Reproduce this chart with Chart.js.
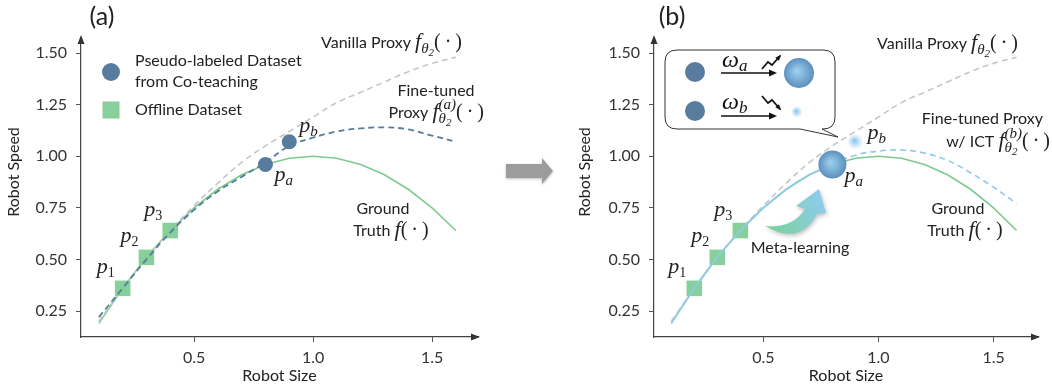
<!DOCTYPE html>
<html>
<head>
<meta charset="utf-8">
<script src="https://cdn.jsdelivr.net/npm/chart.js@4.4.1/dist/chart.umd.min.js"></script>
<style>
  html, body { margin: 0; padding: 0; background: #fff; }
  #wrap { position: relative; width: 1052px; height: 386px; overflow: hidden; }
  .panel { position: absolute; top: 0; height: 386px; }
  #pa { left: 0; width: 560px; }
  #pb { left: 560px; width: 492px; }
</style>
</head>
<body>
<div id="wrap">
  <div class="panel" id="pa"><canvas id="chartA" width="560" height="386"></canvas></div>
  <div class="panel" id="pb"><canvas id="chartB" width="492" height="386"></canvas></div>
</div>
<script>
// robot size (x) and the curves
const sizes        = [0.1, 0.2, 0.3, 0.4, 0.5, 0.6, 0.7, 0.8, 0.9, 1.0, 1.1, 1.2, 1.3, 1.4, 1.5, 1.6];
const groundTruth  = [0.19, 0.36, 0.51, 0.64, 0.75, 0.84, 0.91, 0.96, 0.99, 1.00, 0.99, 0.96, 0.91, 0.84, 0.75, 0.64];
const vanillaProxy = [0.20, 0.36, 0.51, 0.64, 0.76, 0.87, 0.97, 1.05, 1.12, 1.19, 1.26, 1.31, 1.36, 1.41, 1.45, 1.48];
const finetunedA   = [0.22, 0.36, 0.50, 0.63, 0.74, 0.83, 0.90, 0.97, 1.05, 1.09, 1.12, 1.135, 1.14, 1.13, 1.10, 1.07];
const finetunedICT = [0.19, 0.36, 0.51, 0.64, 0.75, 0.84, 0.91, 0.96, 1.005, 1.025, 1.03, 1.015, 0.98, 0.92, 0.85, 0.77];

// offline dataset p1..p3 and pseudo-labeled pa, pb
const offlineX = [0.2, 0.3, 0.4];
const offlineY = [0.36, 0.51, 0.64];
const offlineNames = ['1', '2', '3'];
const pseudoX = [0.8, 0.9];
const pseudoY = [0.96, 1.07];

const xTicks = [0.5, 1.0, 1.5];
const yTicks = [0.25, 0.5, 0.75, 1.0, 1.25, 1.5];

const GREEN = '#7dcb8f';
const SQUARE = 'rgba(126,204,146,0.92)';
const GRAY = '#c6c6c6';
const STEEL = '#587c9d';
const SKY = '#8ecbee';

const SANS = '16px Lato';
const MATH = 'italic 22px "Liberation Serif"';
const MSUB = 'italic 15px "Liberation Serif"';
const MSUB2 = 'italic 11px "Liberation Serif"';
const NSUB = '14px "Liberation Serif"';
const UPR = '20px "Liberation Serif"';
const DOT = '(\u2009\u00b7\u2009)';

const pts = (xs, ys) => xs.map((x, i) => ({ x: x, y: ys[i] }));

// lay out a line of mixed text/math; 'hold' keeps the pen so the next run stacks under it
function rich(ctx, x, y, parts, align) {
  let cx = 0, hold = null;
  const runs = [];
  for (const p of parts) {
    const [t, f, dy = 0, flag] = p;
    ctx.font = f;
    const w = ctx.measureText(t).width;
    runs.push({ t, f, dy, x: cx });
    if (flag === 'hold') { hold = cx + w; continue; }
    cx += w;
    if (flag === 'end' && hold !== null) { cx = Math.max(cx, hold); hold = null; }
  }
  let x0 = x;
  if (align === 'right') x0 = x - cx;
  if (align === 'center') x0 = x - cx / 2;
  ctx.textAlign = 'left';
  ctx.textBaseline = 'alphabetic';
  for (const r of runs) {
    ctx.font = r.f;
    ctx.fillText(r.t, x0 + r.x, y + r.dy);
  }
}

const fTheta = [['f', MATH], ['\u03b8', MSUB, 5], ['2', MSUB2, 8], [DOT, UPR]];

function glow(inner, outer, fade) {
  return c => {
    if (c.type !== 'data' || !c.raw) return outer;
    const ch = c.chart;
    const x = ch.scales.x.getPixelForValue(c.raw.x);
    const y = ch.scales.y.getPixelForValue(c.raw.y);
    if (!isFinite(x) || !isFinite(y)) return outer;
    const r = c.dataset.pointRadius || 10;
    const g = ch.ctx.createRadialGradient(x - r * 0.15, y - r * 0.15, 0, x, y, r);
    g.addColorStop(0, inner);
    g.addColorStop(1, fade ? 'rgba(142,203,238,0)' : outer);
    return g;
  };
}

function axes(yWidth) {
  const grid = { drawOnChartArea: false, drawTicks: true, tickLength: 5, color: '#555', lineWidth: 1 };
  const border = { display: true, color: '#444', width: 1.2 };
  return {
    x: {
      type: 'linear', min: 0.025, max: 1.693,
      afterBuildTicks: s => { s.ticks = xTicks.map(v => ({ value: v })); },
      afterFit: s => { s.height = 49; },
      grid, border,
      ticks: { font: { family: 'Lato', size: 16 }, color: '#333', padding: 6, maxRotation: 0, callback: v => v.toFixed(1) }
    },
    y: {
      type: 'linear', min: 0.124, max: 1.573,
      afterBuildTicks: s => { s.ticks = yTicks.map(v => ({ value: v })); },
      afterFit: s => { s.width = yWidth; },
      grid, border,
      ticks: { font: { family: 'Lato', size: 16 }, color: '#333', padding: 9, callback: v => v.toFixed(2) }
    }
  };
}

const axisArrows = {
  id: 'axisArrows',
  afterDraw(chart) {
    const { ctx, chartArea: a } = chart;
    ctx.save();
    ctx.fillStyle = '#333';
    ctx.beginPath();
    ctx.moveTo(a.left, a.top - 3);
    ctx.lineTo(a.left - 3.5, a.top + 6);
    ctx.lineTo(a.left + 3.5, a.top + 6);
    ctx.closePath();
    ctx.fill();
    ctx.beginPath();
    ctx.moveTo(a.right + 2, a.bottom);
    ctx.lineTo(a.right - 7, a.bottom - 3.5);
    ctx.lineTo(a.right - 7, a.bottom + 3.5);
    ctx.closePath();
    ctx.fill();
    ctx.restore();
  }
};

// common annotations: titles, panel letter, point labels
function common(chart, letter, letterX, speedX) {
  const { ctx, chartArea: a, scales } = chart;
  ctx.fillStyle = '#222';
  ctx.font = SANS;
  ctx.textAlign = 'center';
  ctx.textBaseline = 'middle';
  ctx.fillText('Robot Size', (a.left + a.right) / 2, 376);
  ctx.save();
  ctx.translate(speedX, 172);
  ctx.rotate(-Math.PI / 2);
  ctx.fillText('Robot Speed', 0, 0);
  ctx.restore();
  ctx.font = '25px Lato';
  ctx.fillText(letter, letterX, 17);
  offlineX.forEach((x, i) => {
    const px = scales.x.getPixelForValue(x), py = scales.y.getPixelForValue(offlineY[i]);
    rich(ctx, px - 26, py - 15, [['p', MATH], [offlineNames[i], NSUB, 4]]);
  });
}

const decorA = {
  id: 'decorA',
  afterDraw(chart) {
    const { ctx, scales } = chart;
    ctx.save();
    common(chart, '(a)', 102, 14);
    const pa = { x: scales.x.getPixelForValue(pseudoX[0]), y: scales.y.getPixelForValue(pseudoY[0]) };
    const pb = { x: scales.x.getPixelForValue(pseudoX[1]), y: scales.y.getPixelForValue(pseudoY[1]) };
    ctx.fillStyle = '#222';
    rich(ctx, pa.x + 9, pa.y + 17, [['p', MATH], ['a', MSUB, 4]]);
    rich(ctx, pb.x + 10, pb.y - 10, [['p', MATH], ['b', MSUB, 4]]);
    rich(ctx, 462, 48, [['Vanilla Proxy ', SANS]].concat(fTheta), 'right');
    ctx.font = SANS; ctx.textAlign = 'center';
    ctx.fillText('Fine-tuned', 436, 96);
    rich(ctx, 484, 118, [['Proxy ', SANS], ['f', MATH], ['(a)', MSUB, -9, 'hold'], ['\u03b8', MSUB, 5], ['2', MSUB2, 8, 'end'], [DOT, UPR]], 'right');
    ctx.font = SANS; ctx.textAlign = 'center';
    ctx.fillText('Ground', 383, 214);
    rich(ctx, 391, 236, [['Truth ', SANS], ['f', MATH], [DOT, UPR]], 'center');

    // legend
    ctx.fillStyle = STEEL;
    ctx.beginPath(); ctx.arc(111, 72, 9, 0, Math.PI * 2); ctx.fill();
    ctx.fillStyle = SQUARE;
    ctx.fillRect(102.5, 101.5, 17, 17);
    ctx.fillStyle = '#222';
    ctx.font = SANS; ctx.textAlign = 'left'; ctx.textBaseline = 'alphabetic';
    ctx.fillText('Pseudo-labeled Dataset', 135, 66);
    ctx.fillText('from Co-teaching', 135, 87);
    ctx.fillText('Offline Dataset', 135, 115);

    // gray arrow between the panels
    ctx.shadowColor = 'rgba(0,0,0,0.25)';
    ctx.shadowBlur = 3; ctx.shadowOffsetY = 1;
    ctx.fillStyle = '#9c9c9c';
    ctx.beginPath();
    ctx.moveTo(506, 164); ctx.lineTo(542, 164); ctx.lineTo(542, 158); ctx.lineTo(553, 171);
    ctx.lineTo(542, 184); ctx.lineTo(542, 178); ctx.lineTo(506, 178); ctx.closePath();
    ctx.fill();
    ctx.restore();
  }
};

function arrowLine(ctx, x1, y, x2) {
  ctx.beginPath(); ctx.moveTo(x1, y); ctx.lineTo(x2 - 5, y); ctx.stroke();
  ctx.beginPath(); ctx.moveTo(x2, y); ctx.lineTo(x2 - 8, y - 3.5); ctx.lineTo(x2 - 8, y + 3.5); ctx.closePath(); ctx.fill();
}

function zig(ctx, p) {
  ctx.beginPath();
  ctx.moveTo(p[0][0], p[0][1]);
  for (let i = 1; i < p.length; i++) ctx.lineTo(p[i][0], p[i][1]);
  ctx.stroke();
  const a = p[p.length - 2], b = p[p.length - 1];
  const ang = Math.atan2(b[1] - a[1], b[0] - a[0]);
  ctx.beginPath();
  ctx.moveTo(b[0] + 2 * Math.cos(ang), b[1] + 2 * Math.sin(ang));
  ctx.lineTo(b[0] - 5 * Math.cos(ang - 0.5), b[1] - 5 * Math.sin(ang - 0.5));
  ctx.lineTo(b[0] - 5 * Math.cos(ang + 0.5), b[1] - 5 * Math.sin(ang + 0.5));
  ctx.closePath(); ctx.fill();
}

function ball(ctx, x, y, r, inner, outer) {
  const g = ctx.createRadialGradient(x - r * 0.15, y - r * 0.15, 0, x, y, r);
  g.addColorStop(0, inner); g.addColorStop(1, outer);
  ctx.fillStyle = g;
  ctx.beginPath(); ctx.arc(x, y, r, 0, Math.PI * 2); ctx.fill();
}

const decorB = {
  id: 'decorB',
  afterDraw(chart) {
    const { ctx, scales } = chart;
    ctx.save();
    common(chart, '(b)', 112, 25);
    const pa = { x: scales.x.getPixelForValue(pseudoX[0]), y: scales.y.getPixelForValue(pseudoY[0]) };
    const pb = { x: scales.x.getPixelForValue(pseudoX[1]), y: scales.y.getPixelForValue(pseudoY[1]) };
    ctx.fillStyle = '#222';
    rich(ctx, pa.x + 12, pa.y + 18, [['p', MATH], ['a', MSUB, 4]]);
    rich(ctx, pb.x + 12, pb.y - 3, [['p', MATH], ['b', MSUB, 4]]);
    rich(ctx, 458, 49, [['Vanilla Proxy ', SANS]].concat(fTheta), 'right');
    ctx.font = SANS; ctx.textAlign = 'right';
    ctx.fillText('Fine-tuned Proxy', 483, 124);
    rich(ctx, 490, 147, [['w/ ICT ', SANS], ['f', MATH], ['(b)', MSUB, -9, 'hold'], ['\u03b8', MSUB, 5], ['2', MSUB2, 8, 'end'], [DOT, UPR]], 'right');
    ctx.font = SANS; ctx.textAlign = 'center';
    ctx.fillText('Ground', 398, 214);
    rich(ctx, 405, 236, [['Truth ', SANS], ['f', MATH], [DOT, UPR]], 'center');
    ctx.font = SANS; ctx.textAlign = 'center';
    ctx.fillText('Meta-learning', 240, 253);

    // speech bubble
    const x0 = 105, x1 = 275, y0 = 50, y1 = 129, r = 12;
    ctx.beginPath();
    ctx.moveTo(x0 + r, y0);
    ctx.lineTo(x1 - r, y0); ctx.quadraticCurveTo(x1, y0, x1, y0 + r);
    ctx.lineTo(x1, y1 - r); ctx.quadraticCurveTo(x1, y1, x1 - r, y1);
    ctx.lineTo(262, y1); ctx.lineTo(278, 137); ctx.lineTo(240, y1);
    ctx.lineTo(x0 + r, y1); ctx.quadraticCurveTo(x0, y1, x0, y1 - r);
    ctx.lineTo(x0, y0 + r); ctx.quadraticCurveTo(x0, y0, x0 + r, y0);
    ctx.closePath();
    ctx.fillStyle = '#fff'; ctx.fill();
    ctx.strokeStyle = '#333'; ctx.lineWidth = 1; ctx.stroke();

    ctx.fillStyle = STEEL;
    ctx.beginPath(); ctx.arc(135, 72, 10, 0, Math.PI * 2); ctx.fill();
    ctx.beginPath(); ctx.arc(135, 111, 10, 0, Math.PI * 2); ctx.fill();
    ctx.fillStyle = '#111'; ctx.strokeStyle = '#111'; ctx.lineWidth = 1.5;
    arrowLine(ctx, 161, 73, 217);
    arrowLine(ctx, 161, 116, 217);
    rich(ctx, 162, 67, [['\u03c9', 'italic 24px "Liberation Serif"'], ['a', 'italic 17px "Liberation Serif"', 4]]);
    rich(ctx, 162, 109, [['\u03c9', 'italic 24px "Liberation Serif"'], ['b', 'italic 17px "Liberation Serif"', 4]]);
    ctx.lineWidth = 1.7;
    zig(ctx, [[202, 69], [208, 62], [212, 65], [220, 56]]);
    zig(ctx, [[202, 96], [208, 103], [212, 100], [220, 109]]);
    ball(ctx, 239, 73, 15, '#9ed3f1', '#5d8fbe');
    ball(ctx, 237, 112, 6, 'rgba(120,190,240,0.95)', 'rgba(142,203,238,0)');

    // meta-learning swoosh
    const g = ctx.createLinearGradient(205, 226, 262, 192);
    g.addColorStop(0, '#79d29a'); g.addColorStop(1, '#8fcbf0');
    ctx.fillStyle = g;
    ctx.shadowColor = 'rgba(0,0,0,0.25)'; ctx.shadowBlur = 4; ctx.shadowOffsetX = 1; ctx.shadowOffsetY = 2;
    ctx.beginPath();
    ctx.moveTo(205, 226);
    ctx.quadraticCurveTo(240, 246, 257, 214);
    ctx.lineTo(266, 213);
    ctx.lineTo(259, 189);
    ctx.lineTo(236, 206);
    ctx.lineTo(245, 209);
    ctx.quadraticCurveTo(232, 229, 205, 226);
    ctx.closePath();
    ctx.fill();
    ctx.restore();
  }
};

const lineBase = { showLine: true, pointRadius: 0, borderWidth: 1.6, fill: false };

const chartA = new Chart(document.getElementById('chartA'), {
  type: 'scatter',
  data: {
    datasets: [
      { ...lineBase, label: 'Ground Truth', data: pts(sizes, groundTruth), borderColor: GREEN, tension: 0, order: 5 },
      { ...lineBase, label: 'Vanilla Proxy', data: pts(sizes, vanillaProxy), borderColor: GRAY, borderDash: [6, 4], tension: 0.4, order: 4 },
      { label: 'Offline Dataset', data: pts(offlineX, offlineY), pointStyle: 'rect', pointRadius: 11, backgroundColor: SQUARE, borderWidth: 0, order: 3 },
      { ...lineBase, label: 'Fine-tuned Proxy', data: pts(sizes, finetunedA), borderColor: STEEL, borderDash: [6, 4], borderWidth: 1.8, tension: 0.4, order: 2 },
      { label: 'Pseudo-labeled', data: pts(pseudoX, pseudoY), pointRadius: 7.5, backgroundColor: STEEL, borderWidth: 0, order: 1 }
    ]
  },
  options: {
    responsive: false, animation: false, events: [],
    layout: { padding: { top: 38, right: 82, left: 0, bottom: 0 } },
    plugins: { legend: { display: false }, tooltip: { enabled: false } },
    scales: axes(81)
  },
  plugins: [axisArrows, decorA]
});

const chartB = new Chart(document.getElementById('chartB'), {
  type: 'scatter',
  data: {
    datasets: [
      { ...lineBase, label: 'Ground Truth', data: pts(sizes, groundTruth), borderColor: GREEN, tension: 0, order: 5 },
      { ...lineBase, label: 'Vanilla Proxy', data: pts(sizes, vanillaProxy), borderColor: GRAY, borderDash: [6, 4], tension: 0.4, order: 4 },
      { label: 'Offline Dataset', data: pts(offlineX, offlineY), pointStyle: 'rect', pointRadius: 11, backgroundColor: SQUARE, borderWidth: 0, order: 3 },
      { ...lineBase, label: 'Fine-tuned Proxy w/ ICT', data: pts(sizes, finetunedICT), borderColor: SKY, tension: 0.4, order: 2,
        segment: { borderDash: c => c.p0.parsed.x >= 0.79 ? [6, 4] : undefined } },
      { label: 'pa', data: pts(pseudoX.slice(0, 1), pseudoY.slice(0, 1)), pointRadius: 14, borderWidth: 0,
        backgroundColor: glow('#9ed3f1', '#5d8fbe', false), order: 1 },
      { label: 'pb', data: pts(pseudoX.slice(1), pseudoY.slice(1)), pointRadius: 8, borderWidth: 0,
        backgroundColor: glow('rgba(120,190,240,0.95)', SKY, true), order: 1 }
    ]
  },
  options: {
    responsive: false, animation: false, events: [],
    layout: { padding: { top: 38, right: 1, left: 0, bottom: 0 } },
    plugins: { legend: { display: false }, tooltip: { enabled: false } },
    scales: axes(94)
  },
  plugins: [axisArrows, decorB]
});
</script>
</body>
</html>
